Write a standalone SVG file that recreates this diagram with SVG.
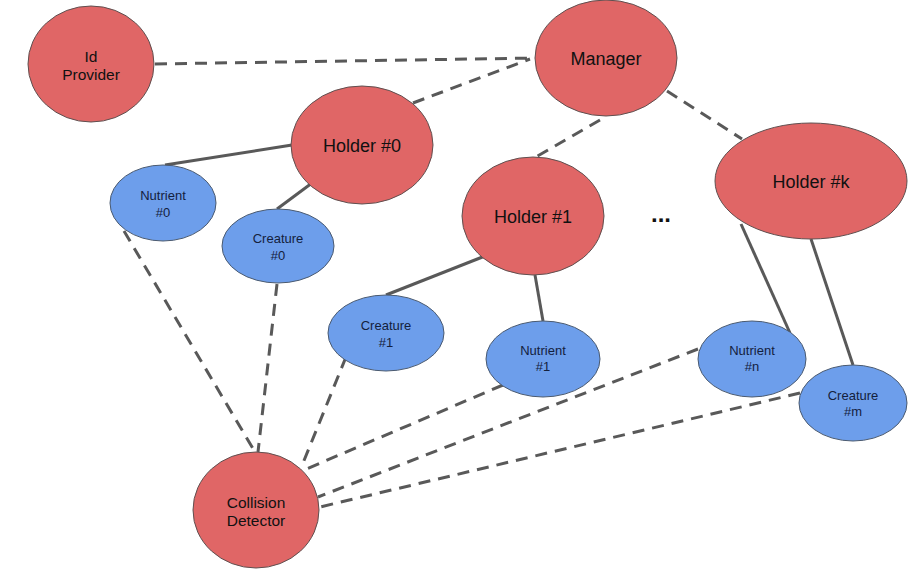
<svg xmlns="http://www.w3.org/2000/svg" width="909" height="573" viewBox="0 0 909 573">
<style>
.red{fill:#e06666;stroke:#5f5050;stroke-width:1}
.blue{fill:#6d9eeb;stroke:#4a5a70;stroke-width:1}
.lbl{font-family:"Liberation Sans",Arial,sans-serif;text-anchor:middle;fill:#111}
.big{font-size:18px}
.mid{font-size:15.5px}
.sm{font-size:13px;fill:#14213d}
.dash{stroke:#595959;stroke-width:3;stroke-dasharray:12,8;fill:none}
.solid{stroke:#595959;stroke-width:3;fill:none}
</style>
<rect width="909" height="573" fill="#ffffff"/>
<g id="connectors">
<line class="dash" x1="155" y1="64" x2="535" y2="58"/>
<line class="dash" x1="413" y1="103" x2="530" y2="59"/>
<line class="dash" x1="600" y1="120" x2="534" y2="158"/>
<line class="dash" x1="667" y1="91" x2="742" y2="139"/>
<line class="dash" x1="124" y1="231" x2="255" y2="452"/>
<line class="dash" x1="277" y1="284" x2="258" y2="452"/>
<line class="dash" x1="346" y1="357" x2="301" y2="468"/>
<line class="dash" x1="503" y1="385" x2="304" y2="470"/>
<line class="dash" x1="698" y1="349" x2="318" y2="497"/>
<line class="dash" x1="800" y1="393" x2="320" y2="507"/>
<line class="solid" x1="292" y1="145" x2="165" y2="165"/>
<line class="solid" x1="312" y1="183" x2="277" y2="209"/>
<line class="solid" x1="485" y1="256" x2="386" y2="295"/>
<line class="solid" x1="535" y1="275" x2="543" y2="321"/>
<line class="solid" x1="741" y1="224" x2="790" y2="333"/>
<line class="solid" x1="811" y1="239" x2="853" y2="365"/>
</g>
<g id="id-provider">
<ellipse class="red" cx="91" cy="64" rx="63" ry="58"/>
<text class="lbl mid" x="91" y="62">Id</text>
<text class="lbl mid" x="91" y="80">Provider</text>
</g>
<g id="manager">
<ellipse class="red" cx="606" cy="58" rx="71" ry="58"/>
<text class="lbl big" x="606" y="65">Manager</text>
</g>
<g id="holder-0">
<ellipse class="red" cx="362" cy="145" rx="71" ry="59"/>
<text class="lbl big" x="362" y="152">Holder #0</text>
</g>
<g id="holder-1">
<ellipse class="red" cx="533" cy="216" rx="71" ry="59"/>
<text class="lbl big" x="533" y="223">Holder #1</text>
</g>
<g id="holder-k">
<ellipse class="red" cx="811" cy="181" rx="96" ry="58"/>
<text class="lbl big" x="811" y="188">Holder #k</text>
</g>
<g id="nutrient-0">
<ellipse class="blue" cx="163" cy="203" rx="53" ry="38"/>
<text class="lbl sm" x="163" y="200">Nutrient</text>
<text class="lbl sm" x="163" y="217">#0</text>
</g>
<g id="creature-0">
<ellipse class="blue" cx="278" cy="246" rx="56" ry="37"/>
<text class="lbl sm" x="278" y="243">Creature</text>
<text class="lbl sm" x="278" y="260">#0</text>
</g>
<g id="creature-1">
<ellipse class="blue" cx="386" cy="333" rx="58" ry="38"/>
<text class="lbl sm" x="386" y="330">Creature</text>
<text class="lbl sm" x="386" y="347">#1</text>
</g>
<g id="nutrient-1">
<ellipse class="blue" cx="543" cy="359" rx="57" ry="38"/>
<text class="lbl sm" x="543" y="355">Nutrient</text>
<text class="lbl sm" x="543" y="371">#1</text>
</g>
<g id="nutrient-n">
<ellipse class="blue" cx="752" cy="359" rx="54" ry="38"/>
<text class="lbl sm" x="752" y="355">Nutrient</text>
<text class="lbl sm" x="752" y="371">#n</text>
</g>
<g id="creature-m">
<ellipse class="blue" cx="853" cy="403" rx="54" ry="38"/>
<text class="lbl sm" x="853" y="400">Creature</text>
<text class="lbl sm" x="853" y="416">#m</text>
</g>
<g id="collision-detector">
<ellipse class="red" cx="256" cy="510" rx="63" ry="58"/>
<text class="lbl mid" x="256" y="508">Collision</text>
<text class="lbl mid" x="256" y="526">Detector</text>
</g>
<g id="ellipsis">
<text class="lbl" x="661" y="222" font-size="24" font-weight="bold" fill="#000">...</text>
</g>
</svg>
